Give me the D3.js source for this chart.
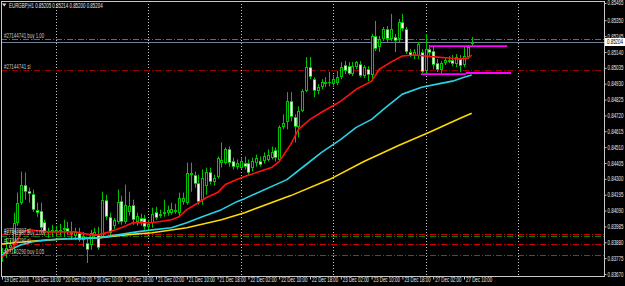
<!DOCTYPE html>
<html><head><meta charset="utf-8">
<script src="https://cdn.jsdelivr.net/npm/d3@7"></script>
<style>html,body{margin:0;padding:0;background:#000}svg{display:block}</style>
</head><body>
<svg id="c" width="625" height="286"></svg>
<script>
// ---------- data (EURGBP H1, 19 Dec 2016 10:00 .. 27 Dec 2016 12:00) ----------
const symbolTitle = "EURGBP,H1  0.85205 0.85214 0.85200 0.85204";
const opens = [0.83796,0.83816,0.83843,0.83863,0.84009,0.84142,0.84262,0.84222,0.84202,0.84096,0.84089,0.84016,0.83943,0.83949,0.83963,0.83949,0.83963,0.83976,0.83949,0.83923,0.83943,0.83896,0.83876,0.83863,0.83923,0.83929,0.83916,0.84162,0.84049,0.83989,0.84016,0.84155,0.84016,0.84082,0.84129,0.84016,0.84042,0.84042,0.83982,0.84009,0.84082,0.84056,0.84069,0.84076,0.84076,0.84096,0.84076,0.84149,0.84142,0.84342,0.84328,0.84275,0.84162,0.84255,0.84348,0.84282,0.84315,0.84408,0.84408,0.84495,0.84421,0.84381,0.84375,0.84408,0.84408,0.84375,0.84408,0.84421,0.84415,0.84428,0.84441,0.84488,0.84428,0.84641,0.84674,0.84814,0.84707,0.84641,0.84747,0.84880,0.85040,0.84960,0.84880,0.84907,0.84927,0.84933,0.84927,0.84933,0.84973,0.85053,0.85046,0.84993,0.85040,0.85060,0.84980,0.85026,0.84987,0.85246,0.85173,0.85226,0.85292,0.85226,0.85239,0.85226,0.85339,0.85292,0.85140,0.85113,0.85113,0.85140,0.85013,0.85159,0.85146,0.85066,0.85020,0.85066,0.85086,0.85086,0.85060,0.85100,0.85053,0.85106,0.85193];
const highs = [0.83843,0.83909,0.83896,0.84076,0.84209,0.84348,0.84342,0.84242,0.84229,0.84142,0.84142,0.84029,0.83976,0.83996,0.83989,0.84002,0.84029,0.84016,0.84016,0.83976,0.83976,0.83949,0.83909,0.83963,0.83976,0.83982,0.84215,0.84195,0.84076,0.84042,0.84229,0.84189,0.84262,0.84215,0.84162,0.84076,0.84069,0.84062,0.84029,0.84109,0.84115,0.84096,0.84162,0.84122,0.84142,0.84135,0.84209,0.84209,0.84408,0.84408,0.84348,0.84328,0.84362,0.84375,0.84375,0.84328,0.84448,0.84541,0.84508,0.84514,0.84441,0.84428,0.84441,0.84448,0.84428,0.84441,0.84461,0.84448,0.84475,0.84495,0.84514,0.84508,0.84654,0.84727,0.84874,0.84874,0.84727,0.84780,0.84893,0.85106,0.85106,0.84973,0.84927,0.84960,0.84973,0.85007,0.84987,0.85013,0.85073,0.85080,0.85073,0.85073,0.85080,0.85080,0.85053,0.85046,0.85259,0.85346,0.85246,0.85306,0.85312,0.85392,0.85259,0.85359,0.85392,0.85306,0.85159,0.85159,0.85206,0.85159,0.85259,0.85186,0.85173,0.85093,0.85080,0.85106,0.85113,0.85120,0.85126,0.85120,0.85173,0.85186,0.85239];
const lows = [0.83750,0.83776,0.83816,0.83803,0.83989,0.84129,0.84162,0.84142,0.84082,0.84049,0.83943,0.83923,0.83909,0.83916,0.83923,0.83923,0.83916,0.83929,0.83896,0.83896,0.83883,0.83849,0.83743,0.83830,0.83909,0.83830,0.83909,0.84029,0.83923,0.83969,0.84002,0.83996,0.84002,0.84056,0.83996,0.83989,0.83989,0.83963,0.83963,0.83976,0.84029,0.84042,0.84049,0.84056,0.84062,0.84069,0.84049,0.84129,0.84129,0.84215,0.84242,0.84129,0.84129,0.84195,0.84262,0.84255,0.84302,0.84375,0.84395,0.84381,0.84362,0.84362,0.84362,0.84362,0.84328,0.84348,0.84381,0.84381,0.84401,0.84415,0.84428,0.84415,0.84415,0.84628,0.84628,0.84681,0.84541,0.84574,0.84741,0.84874,0.84960,0.84840,0.84860,0.84893,0.84907,0.84913,0.84907,0.84920,0.84960,0.84993,0.84987,0.84980,0.85026,0.84973,0.84967,0.84947,0.84947,0.85146,0.85140,0.85213,0.85206,0.85213,0.85140,0.85206,0.85279,0.85126,0.85106,0.85093,0.85093,0.85000,0.85000,0.85106,0.85026,0.85007,0.85000,0.85053,0.85066,0.85046,0.85040,0.85007,0.85040,0.85093,0.85179];
const closes = [0.83816,0.83843,0.83863,0.84009,0.84142,0.84262,0.84215,0.84202,0.84096,0.84076,0.83976,0.83943,0.83949,0.83963,0.83949,0.83963,0.83976,0.83949,0.83936,0.83949,0.83896,0.83923,0.83830,0.83943,0.83949,0.83843,0.84162,0.84049,0.83943,0.84029,0.84149,0.84016,0.84129,0.84122,0.84029,0.84056,0.84016,0.83982,0.84002,0.84069,0.84042,0.84069,0.84082,0.84096,0.84102,0.84082,0.84175,0.84175,0.84342,0.84328,0.84268,0.84149,0.84308,0.84348,0.84282,0.84308,0.84435,0.84428,0.84495,0.84408,0.84381,0.84408,0.84415,0.84381,0.84342,0.84415,0.84441,0.84395,0.84448,0.84461,0.84481,0.84435,0.84641,0.84667,0.84814,0.84707,0.84641,0.84747,0.84880,0.85040,0.84973,0.84880,0.84907,0.84940,0.84940,0.84940,0.84960,0.84973,0.85040,0.85013,0.84993,0.85046,0.85073,0.84980,0.85040,0.84987,0.85246,0.85159,0.85226,0.85292,0.85226,0.85292,0.85213,0.85339,0.85292,0.85140,0.85113,0.85140,0.85193,0.85007,0.85159,0.85133,0.85053,0.85020,0.85066,0.85086,0.85073,0.85060,0.85106,0.85046,0.85113,0.85173,0.85204];

// moving averages (bar index, price)
const redIdx  = [0,3,5,7,12,19,23,25,28,31,34,39,44,46,48,51,53,56,58,61,63,70,72,75,77,80,83,88,92,96,98,101,104,107,110,113,116,119,121,122];
const redVals = [0.83783,0.83849,0.83943,0.83963,0.83949,0.83949,0.83929,0.83929,0.83949,0.83976,0.84009,0.84009,0.84029,0.84049,0.84096,0.84142,0.84175,0.84209,0.84262,0.84295,0.84315,0.84375,0.84415,0.84528,0.84628,0.84694,0.84741,0.84814,0.84893,0.84947,0.85026,0.85073,0.85113,0.85120,0.85113,0.85106,0.85100,0.85093,0.85100,0.85120];
const cyanIdx  = [0,2,5,8,12,17,21,25,30,35,39,44,48,52,57,61,63,74,79,83,88,92,96,100,104,109,113,117,120,122];
const cyanVals = [0.83796,0.83830,0.83863,0.83883,0.83896,0.83903,0.83903,0.83909,0.83929,0.83949,0.83962,0.83976,0.84009,0.84049,0.84096,0.84149,0.84169,0.84295,0.84395,0.84475,0.84561,0.84641,0.84694,0.84780,0.84861,0.84907,0.84927,0.84947,0.84973,0.84987];
const yellowIdx  = [0,8,17,25,32,39,48,57,63,75,85,94,103,111,119,122];
const yellowVals = [0.83869,0.83889,0.83903,0.83909,0.83929,0.83943,0.83976,0.84029,0.84076,0.84189,0.84295,0.84415,0.84521,0.84608,0.84701,0.84734];

// trade levels
const levelPrices = [0.85226,0.85020,0.83935,0.83921,0.83868,0.83796];
const levelKinds  = ["order","stop","stop","order","stop","order"];
const levelLabels = ["#27144741 buy 1.00","#27144741 sl","#27142897 sl","#27142897 buy 1.00","#27140290 sl","#27140290 buy 0.05"];
const bidPrice = 0.85204;

// magenta drawn segments [startIdx, endIdx, price]
const segStart = [111, 108.8, 120.5];
const segEnd   = [131.2, 120.5, 132.2];
const segPrice = [0.85179, 0.84994, 0.85001];

// axes
const priceTicks = [0.85465,0.85350,0.85245,0.85140,0.85035,0.84930,0.84825,0.84720,0.84615,0.84510,0.84405,0.84300,0.84195,0.84090,0.83985,0.83880,0.83775,0.83670];
const timeTickIdx = [0,8,16,24,32,40,48,56,64,72,80,88,96,104,112,120];
const timeTickLabels = ["19 Dec 2016","19 Dec 18:00","20 Dec 02:00","20 Dec 10:00","20 Dec 18:00","21 Dec 02:00","21 Dec 10:00","21 Dec 18:00","22 Dec 02:00","22 Dec 10:00","22 Dec 18:00","23 Dec 02:00","23 Dec 10:00","23 Dec 18:00","27 Dec 02:00","27 Dec 10:00"];
const daySepIdx = [14,38,62,86,110,134];

// ---------- drawing ----------
const svg = d3.select("#c");
const L = 1, R = 604, T = 1, B = 276;
const x = d3.scaleLinear().domain([0,156.36]).range([2,604]);
const y = d3.scaleLinear().domain([0.83670,0.85465]).range([274,2.9]);
const SX = 0.68, FONT = "'Liberation Sans', Arial, sans-serif";

svg.append("rect").attr("width",625).attr("height",286).attr("fill","#000");
svg.append("defs").append("clipPath").attr("id","clip").append("rect")
  .attr("x",L+0.5).attr("y",T+0.5).attr("width",R-L-0.5).attr("height",B-T-0.5);
const plot = svg.append("g").attr("clip-path","url(#clip)");

// period separators
plot.selectAll("line.sep").data(daySepIdx).join("line")
  .attr("x1",d=>Math.round(x(d))+0.5).attr("x2",d=>Math.round(x(d))+0.5)
  .attr("y1",T).attr("y2",B)
  .attr("stroke","#c8c8c8").attr("stroke-width",1).attr("stroke-dasharray","1,2");

// trade levels
const lvlColor = (k,i)=> k==="order" ? (i===0?"#1f9a1f":"#0b7a0b") : (i===1?"#9a0000":"#d00000");
plot.selectAll("line.lvl").data(levelPrices).join("line")
  .attr("x1",L).attr("x2",R)
  .attr("y1",d=>Math.round(y(d))+0.5).attr("y2",d=>Math.round(y(d))+0.5)
  .attr("stroke",(d,i)=>lvlColor(levelKinds[i],i)).attr("stroke-width",1)
  .attr("stroke-dasharray","6,2,1,2");

// bid line
plot.append("line").attr("x1",L).attr("x2",R)
  .attr("y1",Math.round(y(bidPrice))+0.5).attr("y2",Math.round(y(bidPrice))+0.5)
  .attr("stroke","#6f8092").attr("stroke-width",1);

// candles
const bars = d3.range(closes.length).map(i=>({i,o:opens[i],h:highs[i],l:lows[i],c:closes[i]}));
const cg = plot.append("g");
const CAND = "#00c400";
bars.forEach(b=>{
  const cx = Math.round(x(b.i));
  cg.append("line").attr("x1",cx+0.5).attr("x2",cx+0.5)
    .attr("y1",y(b.h)).attr("y2",y(b.l)).attr("stroke",CAND).attr("stroke-width",1);
  const top = Math.round(Math.min(y(b.o),y(b.c)));
  const bot = Math.round(Math.max(y(b.o),y(b.c)));
  const hgt = Math.max(1,bot-top);
  cg.append("rect").attr("x",cx-1).attr("y",top).attr("width",3).attr("height",hgt).attr("fill",CAND);
  if (hgt>2) {
    const bear = b.c < b.o;
    cg.append("rect").attr("x",bear?cx-0.5:cx).attr("y",top+1).attr("width",bear?2:1).attr("height",hgt-2)
      .attr("fill",bear?"#ffffff":"#000000");
  }
});

// moving averages
const maLine = d3.line().x(d=>x(d[0])).y(d=>y(d[1]));
[[yellowIdx,yellowVals,"#ffd800"],[cyanIdx,cyanVals,"#26d3e6"],[redIdx,redVals,"#ff1010"]].forEach(([ix,vs,col])=>{
  plot.append("path").datum(ix.map((d,k)=>[d,vs[k]])).attr("d",maLine)
    .attr("fill","none").attr("stroke",col).attr("stroke-width",1.6).attr("stroke-linejoin","round");
});

// magenta objects
plot.selectAll("line.mag").data(segPrice).join("line")
  .attr("x1",(d,i)=>x(segStart[i])).attr("x2",(d,i)=>x(segEnd[i]))
  .attr("y1",d=>y(d)).attr("y2",d=>y(d))
  .attr("stroke","#ff00ff").attr("stroke-width",1.8);

// level labels
const lblY = [-1,-1,-1,-1,-1,-1];
plot.selectAll("text.lvl").data(levelLabels).join("text")
  .attr("transform",(d,i)=>`translate(4,${Math.round(y(levelPrices[i]))+lblY[i]}) scale(${SX},1)`)
  .attr("font-family",FONT).attr("font-size",6.5).attr("fill","#c8c8c8").text(d=>d);

// frame
svg.append("rect").attr("x",L+0.5).attr("y",T+0.5).attr("width",R-L).attr("height",B-T)
  .attr("fill","none").attr("stroke","#c8c8c8").attr("stroke-width",1);

// right price axis
const ya = svg.append("g").attr("transform",`translate(${R+0.5},0)`)
  .call(d3.axisRight(y).tickValues(priceTicks).tickFormat(d3.format(".5f")).tickSize(2).tickPadding(2));
ya.select(".domain").remove();
ya.selectAll("line").attr("stroke","#c8c8c8");
ya.selectAll("text").attr("x",3/SX).attr("transform",`scale(${SX},1)`)
  .attr("font-family",FONT).attr("font-size",6.5).attr("fill","#e6e6e6");

// bid box
const by = Math.round(y(bidPrice));
svg.append("rect").attr("x",605).attr("y",by-4).attr("width",20).attr("height",8).attr("fill","#ffffff");
svg.append("text").attr("transform",`translate(607,${by+2.3}) scale(${SX},1)`)
  .attr("font-family",FONT).attr("font-size",6.5).attr("fill","#000").text(d3.format(".5f")(bidPrice));

// time axis
const xa = svg.append("g").attr("transform",`translate(0,${B+0.5})`)
  .call(d3.axisBottom(x).tickValues(timeTickIdx).tickFormat((d,i)=>timeTickLabels[i]).tickSize(3));
xa.select(".domain").remove();
xa.selectAll("line").attr("stroke","#c8c8c8");
xa.selectAll("text").attr("y",6).attr("dy",0).attr("x",1.5/SX).attr("text-anchor","start")
  .attr("transform",`scale(${SX},1)`)
  .attr("font-family",FONT).attr("font-size",6.5).attr("fill","#e6e6e6");

// header
svg.append("path").attr("d","M2,3.5 L6.5,3.5 L4.25,6.5 Z").attr("fill","#d8d8d8");
svg.append("text").attr("transform",`translate(9,7.5) scale(${SX},1)`)
  .attr("font-family",FONT).attr("font-size",6.5).attr("fill","#e6e6e6").text(symbolTitle);
</script>
</body></html>
